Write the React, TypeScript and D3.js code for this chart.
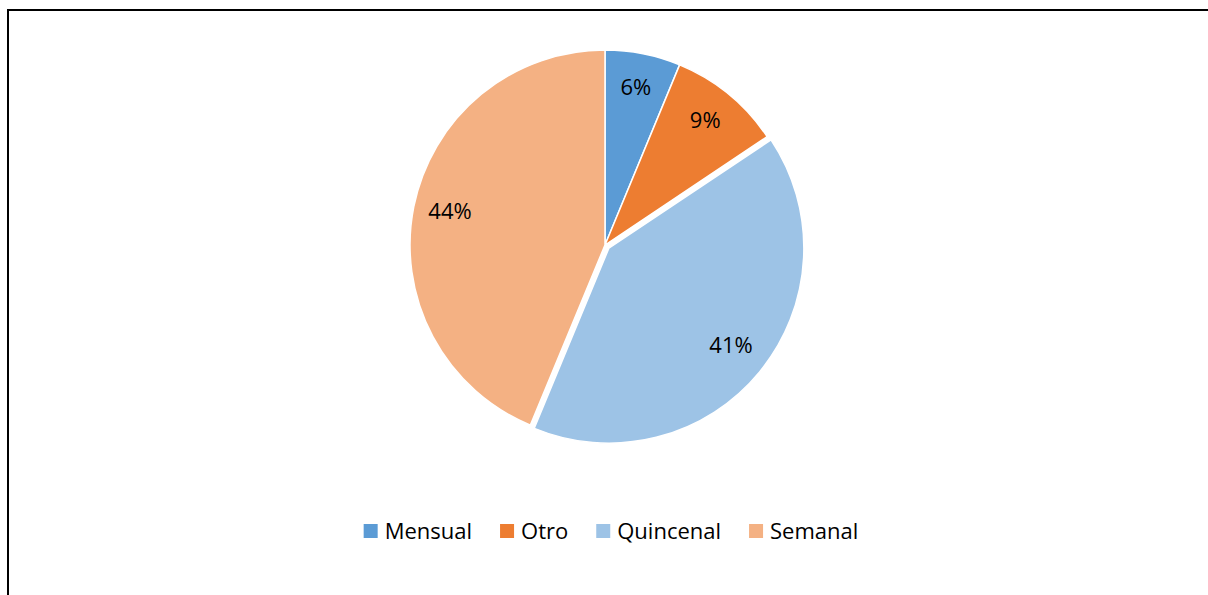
import React, { useEffect, useRef } from 'react';
import * as d3 from 'd3';

const categories = ['Mensual', 'Otro', 'Quincenal', 'Semanal'];
const counts = [2, 3, 13, 14];
const colors = ['#5B9BD5', '#ED7D31', '#9DC3E6', '#F4B183'];
const exploded = ['Quincenal'];

export default function App() {
  const ref = useRef<SVGSVGElement>(null);

  useEffect(() => {
    const cx = 605;
    const cy = 245;
    const r = 195;
    const font = '"Open Sans", sans-serif';

    const svg = d3.select(ref.current);
    svg.selectAll('*').remove();

    // chart frame (right and bottom edges fall outside the picture)
    svg.append('rect')
      .attr('x', 8).attr('y', 10)
      .attr('width', 1220).attr('height', 620)
      .attr('fill', 'white')
      .attr('stroke', 'black')
      .attr('stroke-width', 2);

    const total = d3.sum(counts);
    const data = categories.map((c, i) => ({ name: c, value: counts[i], color: colors[i] }));

    const pie = d3.pie<any>().sort(null).value(d => d.value);
    const arcs = pie(data);
    const arc = d3.arc<any>().innerRadius(0).outerRadius(r);
    const labelArc = d3.arc<any>().innerRadius(158).outerRadius(158);

    const g = svg.append('g').attr('transform', `translate(${cx},${cy})`);

    const slice = g.selectAll('g.slice')
      .data(arcs)
      .enter()
      .append('g')
      .attr('transform', d => {
        if (exploded.indexOf(d.data.name) < 0) return null;
        const mid = (d.startAngle + d.endAngle) / 2;
        return `translate(${Math.sin(mid) * 5},${-Math.cos(mid) * 5})`;
      });

    slice.append('path')
      .attr('d', arc)
      .attr('fill', d => d.data.color)
      .attr('stroke', 'white')
      .attr('stroke-width', 1.5);

    slice.append('text')
      .attr('transform', d => `translate(${labelArc.centroid(d)})`)
      .attr('text-anchor', 'middle')
      .attr('dy', '0.22em')
      .style('font-family', font)
      .style('font-size', '22px')
      .attr('fill', '#000')
      .text(d => Math.round((d.data.value / total) * 100) + '%');

    // legend
    const legend = svg.append('g');
    const items = legend.selectAll('g')
      .data(data)
      .enter()
      .append('g');
    items.append('rect')
      .attr('width', 14).attr('height', 14)
      .attr('y', 524)
      .attr('fill', d => d.color);
    items.append('text')
      .attr('x', 21)
      .attr('y', 539)
      .style('font-family', font)
      .style('font-size', '22px')
      .attr('fill', '#000')
      .text(d => d.name);

    let x = 0;
    const pos: number[] = [];
    items.each(function () {
      const t = d3.select(this).select('text').node() as SVGTextElement;
      pos.push(x);
      x += 21 + t.getComputedTextLength() + 28;
    });
    const totalW = x - 28;
    const start = 611 - totalW / 2;
    items.attr('transform', (d, i) => `translate(${start + pos[i]},0)`);
  }, []);

  return <svg ref={ref} width={1208} height={595} style={{ display: 'block', position: 'absolute', left: 0, top: 0 }} />;
}
